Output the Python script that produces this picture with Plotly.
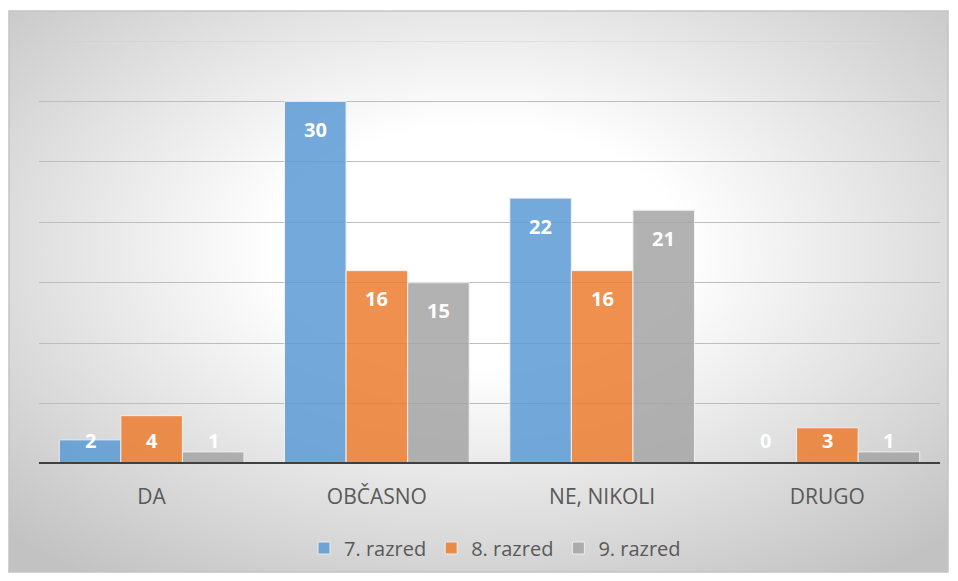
import base64
import plotly.graph_objects as go

categories = ["DA", "OBČASNO", "NE, NIKOLI", "DRUGO"]
series_names = ["7. razred", "8. razred", "9. razred"]
razred7 = [2, 30, 22, 0]
razred8 = [4, 16, 16, 3]
razred9 = [1, 15, 21, 1]
colors = ["#5b9bd5", "#ed7d31", "#a5a5a5"]
y_ticks = [0, 5, 10, 15, 20, 25, 30, 35]

OFF = 8  # page body margin
W, H = 958 - OFF, 581 - OFF
L, R, T, B = 39 - OFF, 18, 41 - OFF, 117
pw, ph = W - L - R, H - T - B

fig = go.Figure()
for name, vals, col in zip(series_names, [razred7, razred8, razred9], colors):
    fig.add_trace(go.Bar(
        x=categories, y=vals, name=name,
        marker=dict(color=col, line=dict(color="#f2f2f2", width=1)),
        opacity=0.85,
    ))

# data labels (inside end, clamped near base)
unit_px = ph / 35.0
annotations = []
group_w = pw / 4 * (1 - 0.18)
bar_w = group_w / 3
for i, vals in enumerate([razred7, razred8, razred9]):
    for c, v in zip(categories, vals):
        ypos = max(v - 28 / unit_px, 24 / unit_px)
        annotations.append(dict(
            x=c, y=ypos, xref="x", yref="y", text=str(v), showarrow=False,
            xshift=(i - 1) * bar_w, yanchor="middle",
            font=dict(family="Open Sans", size=20, color="white", weight="bold"),
        ))

# radial gradient background
svg = (
    '<svg xmlns="http://www.w3.org/2000/svg" width="939" height="561" viewBox="0 0 939 561" preserveAspectRatio="none">'
    '<defs><radialGradient id="g" cx="0.5" cy="0.42" r="0.72">'
    '<stop offset="0" stop-color="#ffffff"/>'
    '<stop offset="0.3" stop-color="#ffffff"/>'
    '<stop offset="1" stop-color="#c2c2c2"/>'
    '</radialGradient></defs>'
    '<rect x="0" y="0" width="939" height="561" fill="url(#g)"/></svg>'
)
src = "data:image/svg+xml;base64," + base64.b64encode(svg.encode()).decode()

bx0, by0, bx1, by1 = 9 - OFF, 11 - OFF, 948 - OFF, 572 - OFF
def px_x(p):
    return (p - L) / pw
def px_y(p):
    return (H - B - p) / ph

fig.update_layout(
    width=W, height=H,
    margin=dict(l=L, r=R, t=T, b=B, autoexpand=False),
    paper_bgcolor="white", plot_bgcolor="rgba(0,0,0,0)",
    barmode="group", bargap=0.18, bargroupgap=0,
    font=dict(family="Open Sans", color="#595959", size=19),
    showlegend=True,
    legend=dict(orientation="h", x=px_x(495 - OFF), xanchor="center", y=px_y(548 - OFF), yanchor="middle",
                font=dict(size=20, color="#595959"), bgcolor="rgba(0,0,0,0)", itemwidth=30),
    annotations=annotations,
    images=[dict(source=src, xref="paper", yref="paper", x=px_x(bx0), y=px_y(by0),
                 sizex=(bx1 - bx0) / pw, sizey=(by1 - by0) / ph, sizing="stretch",
                 xanchor="left", yanchor="top", layer="below")],
    shapes=[
        dict(type="rect", xref="paper", yref="paper", x0=px_x(bx0), x1=px_x(bx1),
             y0=px_y(by1), y1=px_y(by0), line=dict(color="#c4c4c4", width=1.5), layer="below"),
        dict(type="line", xref="paper", yref="y", x0=0, x1=1, y0=y_ticks[-1], y1=y_ticks[-1],
             line=dict(color="#d0d0d0", width=1), layer="below"),
        dict(type="line", xref="paper", yref="y", x0=0, x1=1, y0=0, y1=0,
             line=dict(color="#404040", width=4), layer="above"),
    ],
    xaxis=dict(type="category", range=[-0.5, 3.5], showgrid=False, showline=False,
               ticks="", ticklabelstandoff=18, tickfont=dict(family="Open Sans", size=21, color="#595959")),
    yaxis=dict(range=[0, 35], tickvals=y_ticks, showticklabels=False, showgrid=True,
               gridcolor="#bdbdbd", gridwidth=1, zeroline=False, showline=False),
)

fig.write_html("out.html")
